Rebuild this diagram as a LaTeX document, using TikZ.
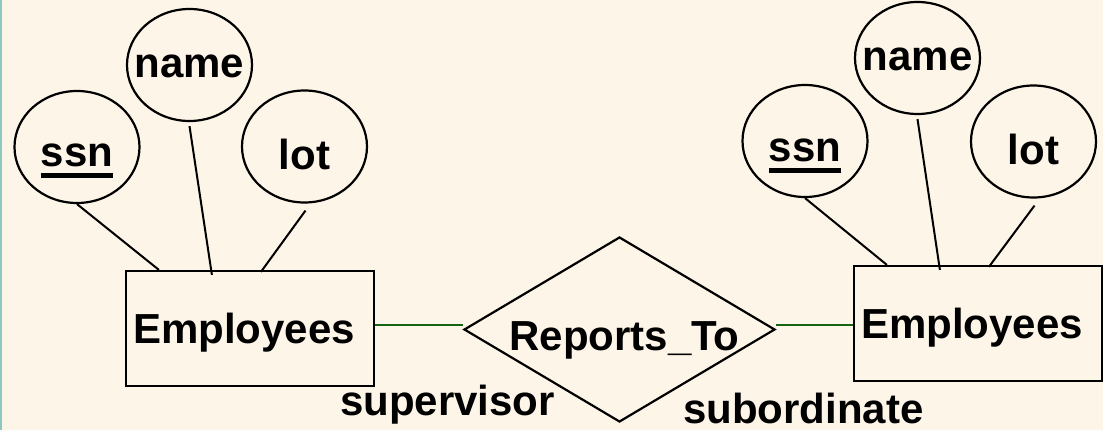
\documentclass[tikz,border=0pt]{standalone}
\usepackage{fontspec}
\setmainfont{Liberation Sans}
\usepackage{tikz}
\usetikzlibrary{shapes.geometric,calc}
\definecolor{paper}{RGB}{254,245,233}
\definecolor{edge}{RGB}{140,200,192}
\definecolor{role}{RGB}{20,100,20}
\newcommand\keyattr[1]{\setbox0\hbox{#1}\rlap{\rule[-11pt]{\wd0}{4.5pt}}\box0}
\tikzset{
  erfont/.style={font=\fontsize{42}{48}\selectfont\bfseries},
  attr/.style={ellipse,draw,line width=2.2pt,inner sep=0pt,minimum width=125pt,minimum height=112pt},
  txt/.style={erfont,inner sep=0pt,anchor=base},
  entity/.style={rectangle,draw,line width=2.2pt,inner ysep=0pt,inner xsep=7pt,text width=234pt,align=left,
    minimum height=115pt,erfont,text height=29pt,text depth=0pt},
  relship/.style={diamond,draw,line width=2.2pt,inner sep=0pt,aspect=1.68,minimum width=311pt,minimum height=185pt,
    erfont,text height=42pt,text depth=0pt},
  attrlink/.style={line width=2pt},
  rolelink/.style={draw=role,line width=2pt},
}
\begin{document}
\begin{tikzpicture}[x=1pt,y=-1pt]
  \fill[paper] (0,0) rectangle (1103,430);
  \fill[edge] (0,0) rectangle (1.5,430);
  \useasboundingbox (0,0) rectangle (1103,430);

  % the two entity sets and the relationship
  \node[entity] (empL) at (250,328.5) {Employees};
  \node[entity] (empR) at (978,323.5) {Employees};
  \node[relship] (rep) at (619.5,329.5) {\hspace*{10pt}Reports\_To};

  % attributes: name / centre / text / baseline
  \foreach \n/\x/\y/\t/\b in {ssnL/77/147/{\keyattr{ssn}}/167, nameL/189.5/65/name/78, lotL/304.5/146.5/lot/170,
      ssnR/805/141/{\keyattr{ssn}}/162, nameR/917.5/58/name/71, lotR/1033.5/141.5/lot/165}
  {
    \node[attr] (\n) at (\x,\y) {};
    \node[txt] (\n-t) at (\x,\b) {\t};
  }

  % attribute links
  \foreach \s in {L,R}
  {
    \draw[attrlink] (ssn\s.south) -- ([xshift=34pt]emp\s.north west);
    \draw[attrlink] ([yshift=-4pt]name\s.south) -- ([xshift=87pt,yshift=-5pt]emp\s.north west);
    \draw[attrlink] ([xshift=1pt,yshift=-7pt]lot\s.south) -- ([xshift=136pt,yshift=-2pt]emp\s.north west);
  }

  % roles
  \draw[rolelink] ([yshift=3.5pt]empL.east) -- ([yshift=3.5pt]empL.east -| rep.west);
  \draw[rolelink] ([yshift=-1.5pt]empR.west -| rep.east) -- ([yshift=-1.5pt]empR.west);
  \node[txt,anchor=base west] (sup) at (340,415) {supervisor};
  \node[txt,anchor=base west] (sub) at (683,423) {subordinate};
\end{tikzpicture}
\end{document}
